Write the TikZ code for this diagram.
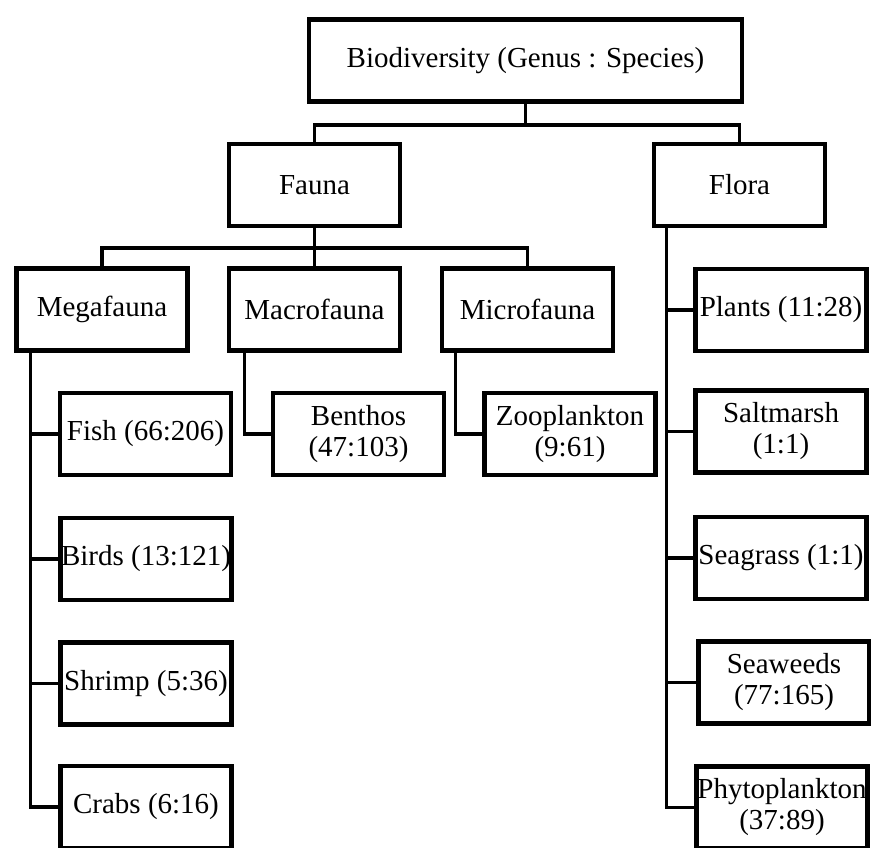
\documentclass[tikz,border=0pt]{standalone}
\usepackage{fontspec}
\setmainfont{Liberation Serif}
\begin{document}
\begin{tikzpicture}[x=1pt,y=-1pt,
  box/.style={draw, line width=4.2pt, minimum width=171pt, minimum height=82pt,
    inner sep=0pt, align=center, font=\fontsize{29}{31}\selectfont},
  link/.style={line width=3.8pt}]
\useasboundingbox (0,0) rectangle (871,847);
\node[box, minimum width=433pt] (bio) at (525.5,60.5) {Biodiversity (Genus : Species)};
\node[box] (fauna) at (314.5,185) {Fauna};
\node[box] (flora) at (739.5,185) {Flora};
\node[box] (mega) at (102,309.5) {Megafauna};
\node[box] (macro) at (314.5,309.5) {Macrofauna};
\node[box] (micro) at (527.5,309.5) {Microfauna};
\node[box] (fish) at (145.5,434) {Fish (66:206)};
\node[box] (birds) at (146,559) {Birds (13:121)};
\node[box] (shrimp) at (146,683.5) {Shrimp (5:36)};
\node[box] (crabs) at (146,807) {Crabs (6:16)};
\node[box] (benthos) at (358.5,434) {Benthos\\(47:103)};
\node[box] (zoo) at (570,434) {Zooplankton\\(9:61)};
\node[box] (plants) at (781,310) {Plants (11:28)};
\node[box] (salt) at (781,431.5) {Saltmarsh\\(1:1)};
\node[box] (seagrass) at (781,558) {Seagrass (1:1)};
\node[box] (seaweeds) at (784,682.5) {Seaweeds\\(77:165)};
\node[box] (phyto) at (782,807.5) {Phytoplankton\\(37:89)};
% top level
\path (bio.south) ++(0,21) coordinate (j1);
\draw[link] (bio.south) -- (j1);
\draw[link] (fauna.north) |- (j1) -| (flora.north);
% fauna level
\path (fauna.south) ++(0,20) coordinate (j2);
\draw[link] (fauna.south) -- (macro.north);
\draw[link] (mega.north) |- (j2) -| (micro.north);
% megafauna
\coordinate (ms) at ([xshift=16pt]mega.south west);
\draw[link] (ms) |- (crabs.west);
\draw[link] (ms |- fish.west) -- (fish.west);
\draw[link] (ms |- birds.west) -- (birds.west);
\draw[link] (ms |- shrimp.west) -- (shrimp.west);
% macro / micro
\draw[link] ([xshift=17.5pt]macro.south west) |- (benthos.west);
\draw[link] ([xshift=15.5pt]micro.south west) |- (zoo.west);
% flora
\coordinate (fs) at ([xshift=14.5pt]flora.south west);
\draw[link] (fs) |- (seaweeds.west);
\draw[link] (fs |- plants.west) -- (plants.west);
\draw[link] (fs |- salt.west) -- (salt.west);
\draw[link] (fs |- seagrass.west) -- (seagrass.west);
\draw[link, line width=2.8pt] (fs |- seaweeds.west) |- (phyto.west);
\end{tikzpicture}
\end{document}
